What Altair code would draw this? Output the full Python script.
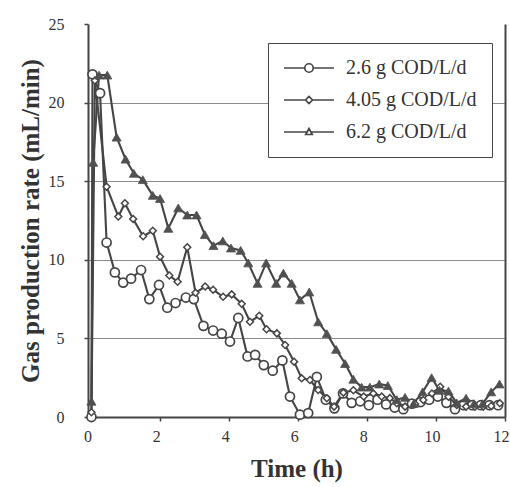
import altair as alt
import pandas as pd

series_names = ["2.6 g COD/L/d", "4.05 g COD/L/d", "6.2 g COD/L/d"]

t_26 = [0, 0.03, 0.25, 0.44, 0.68, 0.92, 1.15, 1.44, 1.68, 1.96, 2.2, 2.44, 2.74, 2.97,
        3.25, 3.53, 3.78, 4.02, 4.26, 4.53, 4.75, 5.0, 5.26, 5.54, 5.76, 6.05, 6.29, 6.54,
        6.8, 7.05, 7.3, 7.55, 7.8, 8.05, 8.3, 8.55, 8.8, 9.05, 9.3, 9.55, 9.8, 10.05, 10.3,
        10.55, 10.8, 11.05, 11.3, 11.55, 11.8]
rate_26 = [0, 21.8, 20.6, 11.1, 9.2, 8.55, 8.8, 9.35, 7.5, 8.4, 6.95, 7.25, 7.6, 7.5,
           5.8, 5.5, 5.3, 4.8, 6.3, 3.85, 3.95, 3.3, 2.95, 3.6, 1.3, 0.15, 0.25, 2.55,
           1.1, 0.55, 1.5, 0.9, 1.0, 0.75, 1.1, 0.8, 0.6, 0.5, 0.85, 0.95, 1.1, 1.3, 0.9,
           0.5, 0.75, 0.75, 0.75, 0.75, 0.75]

t_405 = [0, 0.1, 0.44, 0.78, 0.97, 1.21, 1.5, 1.78, 1.99, 2.26, 2.5, 2.78, 3.02, 3.3,
         3.53, 3.82, 4.07, 4.36, 4.6, 4.87, 5.08, 5.38, 5.62, 5.88, 6.1, 6.34, 6.58, 6.83,
         7.04, 7.31, 7.6, 7.9, 8.18, 8.42, 8.66, 8.86, 9.1, 9.39, 9.63, 9.88, 10.12, 10.36,
         10.6, 10.87, 11.13, 11.37, 11.6, 11.85]
rate_405 = [0.3, 21.4, 14.65, 12.75, 13.6, 12.6, 11.5, 11.85, 10.2, 9.0, 8.6, 10.8, 7.9, 8.3,
            8.1, 7.65, 7.8, 7.2, 6.06, 6.44, 5.58, 5.32, 4.58, 3.52, 2.46, 2.35, 1.72, 1.19,
            0.66, 1.55, 1.7, 1.3, 1.5, 1.3, 1.2, 0.87, 0.66, 0.83, 1.08, 1.5, 1.93, 1.29,
            0.76, 0.66, 0.66, 0.66, 0.7, 0.87]

t_62 = [0, 0.05, 0.22, 0.46, 0.73, 0.99, 1.23, 1.49, 1.78, 1.99, 2.23, 2.52, 2.78, 3.05,
        3.29, 3.54, 3.81, 4.05, 4.33, 4.55, 4.82, 5.07, 5.36, 5.57, 5.81, 6.05, 6.32, 6.58,
        6.83, 7.1, 7.36, 7.6, 7.84, 8.08, 8.35, 8.6, 8.86, 9.1, 9.35, 9.61, 9.87, 10.1,
        10.36, 10.6, 10.87, 11.1, 11.35, 11.6, 11.84]
rate_62 = [1.0, 16.2, 21.75, 21.75, 17.8, 16.4, 15.5, 15.1, 14.1, 13.9, 12.0, 13.3, 12.85, 12.85,
           11.6, 10.9, 11.2, 10.75, 10.6, 9.8, 8.5, 9.8, 8.5, 9.15, 8.5, 7.45, 7.95, 6.05,
           5.3, 4.3, 3.4, 2.4, 1.9, 1.9, 2.1, 2.0, 1.1, 1.25, 0.85, 1.6, 2.5, 1.7,
           1.65, 0.9, 1.2, 0.85, 0.85, 1.6, 2.1]

x_ticks = list(range(0, 13))
y_ticks = [0, 5, 10, 15, 20, 25]
grid_values = [5, 10, 15, 20]

rows = []
for name, ts, rs in zip(series_names, [t_26, t_405, t_62], [rate_26, rate_405, rate_62]):
    for i, (t, r) in enumerate(zip(ts, rs)):
        rows.append({"time": t, "rate": r, "series": name, "idx": i})
df = pd.DataFrame(rows)

GRAY = "#454545"
TXT = "#333333"
FONT = "Liberation Serif"

xs = alt.Scale(domain=[-0.1, 12.0], nice=False, zero=False)
ys = alt.Scale(domain=[0, 25], nice=False)

base = alt.Chart(df)

frame = base.mark_point(opacity=0).encode(
    y=alt.Y("rate:Q", scale=ys, axis=alt.Axis(
        orient="right", values=grid_values, grid=True, gridColor="#8c8c8c", gridWidth=1,
        labels=False, ticks=False, domain=True, domainColor=GRAY, domainWidth=2, title=None))
)

lines = base.mark_line(color=GRAY, strokeWidth=2.1).encode(
    x=alt.X("time:Q", scale=xs, axis=alt.Axis(
        values=x_ticks, tickSize=4, tickColor=GRAY, tickWidth=1.5, domainColor=GRAY, domainWidth=2,
        labelFont=FONT, labelFontSize=16, labelColor=TXT, labelPadding=7, labelOffset=-4,
        labelFlush=False, labelOverlap=False, grid=False,
        title="Time (h)", titleFont=FONT, titleFontSize=25, titleFontWeight="bold",
        titleColor=TXT, titlePadding=12)),
    y=alt.Y("rate:Q", scale=ys, axis=alt.Axis(
        values=y_ticks, tickSize=4, tickColor=GRAY, tickWidth=1.5, domainColor=GRAY, domainWidth=2,
        labelFont=FONT, labelFontSize=16, labelColor=TXT, labelPadding=20, grid=False,
        title="Gas production rate (mL/min)", titleFont=FONT, titleFontSize=25,
        titleFontWeight="bold", titleColor=TXT, titlePadding=5)),
    detail="series:N",
    order="idx:Q",
)

def pts(name, **kw):
    return base.transform_filter(alt.datum.series == name).mark_point(
        filled=True, opacity=1, **kw
    ).encode(
        x=alt.X("time:Q", scale=xs),
        y=alt.Y("rate:Q", scale=ys, axis=None),
    )

p26 = pts(series_names[0], shape="circle", size=82, fill="white", stroke=GRAY, strokeWidth=1.7)
p405 = pts(series_names[1], shape="diamond", size=48, fill="white", stroke=GRAY, strokeWidth=1.5)
p62 = pts(series_names[2], shape="triangle-up", size=82, fill="#505050", stroke="#505050", strokeWidth=0.8)

# legend symbols: a short line with the marker in its middle (unit square, scaled by symbolSize)
path_circle = "M-1,0L-0.17,0M0.17,0L1,0M-0.17,0A0.17,0.17,0,1,1,0.17,0A0.17,0.17,0,1,1,-0.17,0Z"
path_diamond = "M-1,0L-0.14,0M0.14,0L1,0M-0.14,0L0,-0.14L0.14,0L0,0.14Z"
path_tri = "M-1,0L-0.08,0M0.08,0L1,0M-0.13,0.1L0,-0.14L0.13,0.1Z"

leg_props = dict(
    orient="none", legendX=180, legendY=19, title=None,
    strokeColor=GRAY, fillColor="white", padding=15,
    labelFont=FONT, labelFontSize=20, labelColor=TXT, labelOffset=11,
    symbolSize=2500, symbolStrokeWidth=1.7, symbolFillColor="white", symbolOpacity=1,
    clipHeight=20, rowPadding=12,
)

leg = base.mark_point(opacity=0, filled=False, strokeWidth=1.7).encode(
    x=alt.X("time:Q", scale=xs),
    y=alt.Y("rate:Q", scale=ys, axis=None),
    shape=alt.Shape("series:N", scale=alt.Scale(domain=series_names,
                    range=[path_circle, path_diamond, path_tri]),
                    legend=alt.Legend(**leg_props)),
    stroke=alt.Stroke("series:N", scale=alt.Scale(domain=series_names,
                      range=[GRAY, GRAY, GRAY]),
                      legend=alt.Legend(**leg_props)),
)

chart = alt.layer(frame, lines, p26, p405, p62, leg).resolve_axis(
    y="independent"
).properties(
    width=417, height=393,
    autosize=alt.AutoSizeParams(type="none"),
    padding={"left": 88, "top": 24, "right": 5, "bottom": 70},
    background="white",
).configure_view(stroke=None)

chart.save("out.html", embed_options={"renderer": "svg", "actions": False})
